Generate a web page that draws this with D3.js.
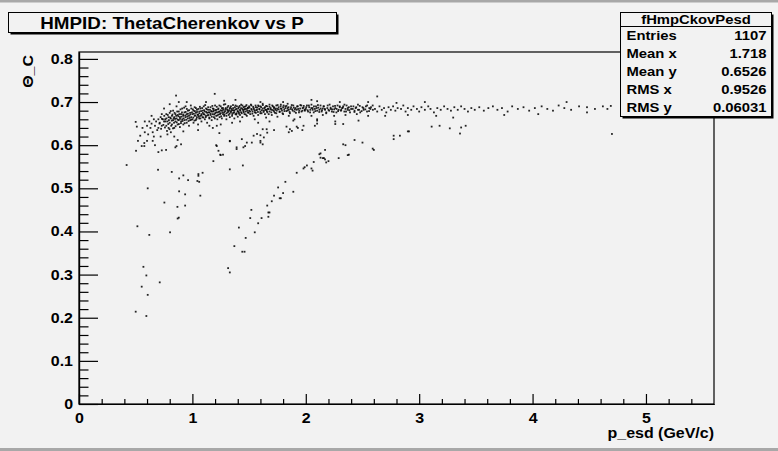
<!DOCTYPE html>
<html><head><meta charset="utf-8">
<script src="https://cdn.jsdelivr.net/npm/d3@7"></script>
<style>
html,body{margin:0;padding:0;background:#f2f2f2;}
svg{display:block;}
text{font-family:"Liberation Sans",Arial,Helvetica,sans-serif;font-weight:bold;fill:#000;}
</style></head>
<body>
<svg id="c" width="778" height="451"></svg>
<script>
// ---------------- DATA ----------------
const chartTitle = "HMPID: ThetaCherenkov vs P";
const xTitle = "p_esd (GeV/c)";
const yTitle = "\u0398_C";
const statsName = "fHmpCkovPesd";
const statsLabels = ["Entries", "Mean x", "Mean y", "RMS x", "RMS y"];
const statsValues = ["1107", "1.718", "0.6526", "0.9526", "0.06031"];
const xDomain = [0, 5.6];
const yDomain = [0, 0.816];
const xMajorTicks = [0, 1, 2, 3, 4, 5];
const yMajorTicks = [0, 0.1, 0.2, 0.3, 0.4, 0.5, 0.6, 0.7, 0.8];

// main Cherenkov-angle band (x = p, y = theta)
const bandPoints = [
[0.56,0.64],[0.58,0.63],[0.60,0.645],[0.61,0.625],[0.62,0.655],[0.63,0.64],[0.64,0.65],[0.65,0.63],[0.66,0.66],[0.67,0.645],
[0.68,0.655],[0.69,0.635],[0.70,0.66],[0.71,0.65],[0.72,0.665],[0.73,0.645],[0.74,0.66],[0.75,0.655],[0.72,0.62],[0.66,0.62],
[0.60,0.61],[0.58,0.655],[0.64,0.668],[0.70,0.64],[0.73,0.672],[0.50,0.654],[0.51,0.643],[0.54,0.622],[0.52,0.61],
[0.76,0.66],[0.77,0.645],[0.77,0.672],[0.78,0.655],[0.79,0.665],[0.79,0.64],[0.80,0.675],[0.80,0.652],[0.81,0.662],[0.81,0.63],
[0.82,0.668],[0.82,0.648],[0.83,0.68],[0.83,0.658],[0.84,0.665],[0.84,0.64],[0.85,0.672],[0.85,0.655],[0.86,0.69],[0.86,0.662],
[0.87,0.648],[0.87,0.67],[0.88,0.658],[0.88,0.678],[0.89,0.665],[0.89,0.642],[0.90,0.672],[0.90,0.655],[0.91,0.685],[0.91,0.66],
[0.92,0.668],[0.92,0.648],[0.93,0.676],[0.93,0.658],[0.94,0.665],[0.94,0.69],[0.95,0.672],[0.95,0.652],[0.96,0.68],[0.96,0.662],
[0.97,0.668],[0.97,0.645],[0.98,0.675],[0.98,0.658],[0.99,0.665],[0.99,0.685],[0.78,0.625],[0.84,0.62],[0.92,0.632],[0.88,0.70],
[0.80,0.695],[0.75,0.685],[0.95,0.70],[0.856,0.715],
[1.00,0.672],[1.00,0.66],[1.01,0.68],[1.01,0.652],[1.02,0.668],[1.02,0.688],[1.03,0.675],[1.03,0.658],[1.04,0.665],[1.04,0.682],
[1.05,0.67],[1.05,0.648],[1.06,0.678],[1.06,0.662],[1.07,0.685],[1.07,0.668],[1.08,0.672],[1.08,0.655],[1.09,0.68],[1.09,0.665],
[1.10,0.69],[1.10,0.672],[1.11,0.66],[1.11,0.678],[1.12,0.668],[1.12,0.685],[1.13,0.675],[1.13,0.652],[1.14,0.67],[1.14,0.682],
[1.15,0.662],[1.15,0.676],[1.16,0.688],[1.16,0.67],[1.17,0.678],[1.17,0.658],[1.18,0.672],[1.18,0.685],[1.19,0.665],[1.19,0.68],
[1.20,0.674],[1.20,0.692],[1.21,0.668],[1.21,0.682],[1.22,0.676],[1.22,0.66],[1.23,0.685],[1.23,0.671],[1.24,0.678],[1.24,0.665],
[1.25,0.69],[1.25,0.674],[1.26,0.68],[1.26,0.662],[1.27,0.672],[1.27,0.686],[1.28,0.676],[1.28,0.668],[1.29,0.683],[1.29,0.695],
[1.30,0.674],[1.30,0.66],[1.31,0.68],[1.31,0.688],[1.32,0.67],[1.32,0.678],[1.33,0.685],[1.33,0.665],[1.34,0.676],[1.34,0.69],
[1.35,0.681],[1.35,0.668],[1.36,0.675],[1.36,0.686],[1.37,0.68],[1.37,0.662],[1.38,0.672],[1.38,0.692],[1.39,0.684],[1.39,0.674],
[1.40,0.678],[1.40,0.666],[1.41,0.688],[1.41,0.676],[1.42,0.682],[1.42,0.67],[1.43,0.676],[1.43,0.694],[1.44,0.684],[1.44,0.665],
[1.45,0.679],[1.45,0.688],[1.46,0.672],[1.46,0.683],[1.47,0.678],[1.47,0.69],[1.48,0.684],[1.48,0.668],[1.49,0.676],[1.49,0.686],
[1.05,0.635],[1.15,0.645],[1.25,0.648],[1.35,0.652],[1.12,0.70],[1.28,0.703],[1.38,0.705],[1.18,0.64],[1.42,0.655],[1.197,0.719],
[1.50,0.68],[1.50,0.69],[1.51,0.672],[1.52,0.684],[1.52,0.692],[1.53,0.678],[1.54,0.686],[1.54,0.668],[1.55,0.68],[1.56,0.688],
[1.56,0.675],[1.57,0.682],[1.58,0.692],[1.58,0.67],[1.59,0.684],[1.60,0.678],[1.60,0.69],[1.61,0.674],[1.62,0.685],[1.62,0.696],
[1.63,0.68],[1.64,0.688],[1.64,0.672],[1.65,0.682],[1.66,0.69],[1.66,0.676],[1.67,0.684],[1.68,0.678],[1.68,0.694],[1.69,0.686],
[1.70,0.67],[1.70,0.682],[1.71,0.69],[1.72,0.678],[1.72,0.686],[1.73,0.682],[1.74,0.692],[1.74,0.674],[1.75,0.684],[1.76,0.688],
[1.77,0.678],[1.78,0.685],[1.78,0.694],[1.79,0.68],[1.80,0.688],[1.80,0.672],[1.81,0.683],[1.82,0.69],[1.83,0.679],[1.84,0.686],
[1.84,0.696],[1.85,0.682],[1.86,0.674],[1.87,0.688],[1.88,0.683],[1.89,0.692],[1.90,0.678],[1.91,0.686],[1.92,0.682],[1.93,0.69],
[1.94,0.676],[1.95,0.685],[1.96,0.692],[1.97,0.68],[1.98,0.687],[1.99,0.682],[1.55,0.66],[1.65,0.664],[1.75,0.666],[1.85,0.668],
[1.95,0.665],[1.60,0.70],[1.80,0.70],[1.58,0.652],[1.68,0.655],[1.90,0.66],
[2.00,0.684],[2.01,0.692],[2.02,0.678],[2.03,0.688],[2.04,0.682],[2.05,0.694],[2.06,0.686],[2.07,0.676],[2.08,0.684],[2.09,0.69],
[2.10,0.68],[2.11,0.687],[2.12,0.682],[2.13,0.692],[2.14,0.678],[2.15,0.685],[2.16,0.69],[2.17,0.682],[2.18,0.674],[2.19,0.686],
[2.20,0.682],[2.21,0.694],[2.22,0.684],[2.23,0.678],[2.24,0.69],[2.25,0.683],[2.26,0.686],[2.27,0.676],[2.28,0.692],[2.29,0.682],
[2.30,0.688],[2.31,0.68],[2.32,0.686],[2.33,0.69],[2.34,0.678],[2.35,0.684],[2.36,0.692],[2.37,0.682],[2.38,0.688],[2.39,0.676],
[2.40,0.684],[2.42,0.69],[2.43,0.68],[2.44,0.686],[2.46,0.694],[2.47,0.682],[2.48,0.676],[2.50,0.688],[2.51,0.682],[2.53,0.69],
[2.54,0.678],[2.56,0.686],[2.57,0.684],[2.59,0.692],[2.05,0.668],[2.15,0.67],[2.25,0.668],[2.35,0.67],[2.45,0.672],[2.10,0.702],
[2.30,0.70],[2.55,0.70],[2.63,0.713],[2.05,0.705],
[2.61,0.684],[2.63,0.678],[2.65,0.69],[2.67,0.682],[2.69,0.686],[2.71,0.676],[2.73,0.688],[2.75,0.682],[2.77,0.69],[2.79,0.68],
[2.81,0.686],[2.84,0.684],[2.86,0.692],[2.88,0.678],[2.90,0.686],[2.93,0.682],[2.95,0.69],[2.98,0.684],[3.00,0.678],[3.02,0.688],
[3.05,0.682],[3.08,0.69],[3.10,0.684],[3.13,0.676],[3.16,0.686],[3.19,0.682],[3.22,0.69],[3.25,0.684],[3.28,0.68],[3.31,0.688],
[3.34,0.682],[3.37,0.69],[3.40,0.684],[3.43,0.678],[3.46,0.686],[3.49,0.682],[2.70,0.668],[2.90,0.67],[3.15,0.668],[2.80,0.698],
[3.05,0.70],
[3.53,0.688],[3.57,0.68],[3.61,0.686],[3.65,0.69],[3.69,0.682],[3.73,0.686],[3.78,0.678],[3.82,0.69],[3.87,0.684],[3.92,0.688],
[3.97,0.68],[4.02,0.686],[4.08,0.69],[4.13,0.684],[4.18,0.68],[4.23,0.692],[4.28,0.686],[4.34,0.682],[4.41,0.69],[4.48,0.688],
[4.48,0.676],[4.55,0.684],[4.62,0.69],[4.66,0.684],[4.69,0.691],[4.05,0.672],[3.75,0.67],[4.30,0.70]
];

// denser core of the band, read from the blackest region
const bandCorePoints = [
[0.712,0.652],[0.724,0.638],[0.731,0.661],[0.744,0.647],[0.752,0.668],[0.758,0.641],[0.763,0.655],[0.771,0.662],[0.776,0.633],[0.783,0.67],
[0.787,0.649],[0.793,0.658],[0.798,0.637],[0.804,0.664],[0.809,0.679],[0.813,0.645],[0.818,0.657],[0.824,0.671],[0.829,0.639],[0.834,0.662],
[0.838,0.652],[0.843,0.675],[0.847,0.661],[0.852,0.644],[0.857,0.668],[0.862,0.653],[0.866,0.678],[0.871,0.659],[0.876,0.667],[0.881,0.649],
[0.885,0.672],[0.891,0.661],[0.895,0.683],[0.899,0.651],[0.904,0.666],[0.908,0.676],[0.913,0.656],[0.918,0.671],[0.923,0.662],[0.927,0.687],
[0.932,0.651],[0.937,0.669],[0.941,0.677],[0.946,0.659],[0.951,0.684],[0.955,0.667],[0.961,0.673],[0.966,0.656],[0.971,0.681],[0.976,0.663],
[0.981,0.671],[0.986,0.692],[0.991,0.659],[0.996,0.676],
[1.004,0.683],[1.008,0.664],[1.013,0.673],[1.018,0.657],[1.022,0.679],[1.027,0.669],[1.031,0.686],[1.036,0.661],[1.041,0.677],[1.046,0.671],
[1.052,0.684],[1.057,0.666],[1.061,0.674],[1.066,0.689],[1.071,0.662],[1.076,0.679],[1.081,0.669],[1.086,0.686],[1.092,0.675],[1.097,0.664],
[1.103,0.681],[1.107,0.671],[1.113,0.693],[1.118,0.665],[1.123,0.677],[1.128,0.683],[1.134,0.669],[1.139,0.688],[1.144,0.676],[1.149,0.664],
[1.155,0.682],[1.161,0.673],[1.166,0.679],[1.171,0.666],[1.176,0.691],[1.182,0.678],[1.187,0.684],[1.193,0.671],[1.198,0.662],[1.204,0.681],
[1.209,0.676],[1.215,0.689],[1.221,0.669],[1.226,0.683],[1.232,0.677],[1.238,0.692],[1.243,0.672],[1.249,0.681],[1.254,0.667],[1.26,0.686],
[1.266,0.676],[1.271,0.682],[1.277,0.694],[1.283,0.671],[1.288,0.679],[1.294,0.686],[1.30,0.668],[1.306,0.683],[1.311,0.676],[1.317,0.691],
[1.323,0.681],[1.328,0.673],[1.334,0.687],[1.34,0.679],[1.346,0.684],[1.352,0.672],[1.358,0.693],[1.363,0.681],[1.369,0.676],[1.375,0.688],
[1.381,0.683],[1.387,0.671],[1.393,0.69],[1.399,0.679],[1.405,0.685],[1.411,0.673],[1.417,0.691],[1.423,0.68],[1.429,0.686],[1.435,0.674],
[1.441,0.692],[1.447,0.682],[1.453,0.676],[1.459,0.689],[1.465,0.684],[1.471,0.671],[1.477,0.693],[1.483,0.68],[1.489,0.687],[1.495,0.675],
[1.503,0.687],[1.509,0.678],[1.516,0.694],[1.523,0.682],[1.529,0.673],[1.536,0.689],[1.543,0.683],[1.55,0.676],[1.557,0.692],[1.563,0.681],
[1.571,0.687],[1.578,0.677],[1.585,0.69],[1.592,0.683],[1.599,0.674],[1.606,0.688],[1.613,0.681],[1.621,0.693],[1.628,0.677],[1.635,0.686],
[1.643,0.682],[1.65,0.691],[1.657,0.679],[1.665,0.684],[1.673,0.672],[1.68,0.689],[1.688,0.683],[1.696,0.676],[1.704,0.692],[1.712,0.681],
[1.72,0.688],[1.728,0.675],[1.736,0.685],[1.744,0.68],[1.752,0.693],[1.761,0.683],[1.769,0.677],[1.778,0.69],[1.786,0.684],[1.795,0.674],
[1.804,0.692],[1.812,0.679],[1.821,0.686],[1.83,0.691],[1.839,0.681],[1.848,0.688],[1.857,0.677],[1.866,0.684],[1.876,0.693],[1.885,0.68],
[1.894,0.687],[1.904,0.683],[1.913,0.675],[1.923,0.69],[1.933,0.684],[1.942,0.68],[1.952,0.693],[1.962,0.678],[1.972,0.686],[1.982,0.691],
[1.992,0.68],
[2.004,0.688],[2.016,0.681],[2.027,0.692],[2.038,0.676],[2.049,0.686],[2.061,0.682],[2.072,0.69],[2.084,0.679],[2.095,0.686],[2.107,0.693],
[2.119,0.677],[2.131,0.685],[2.143,0.681],[2.156,0.69],[2.168,0.684],[2.181,0.676],[2.193,0.692],[2.206,0.68],[2.219,0.687],[2.232,0.683],
[2.245,0.677],[2.258,0.691],[2.272,0.684],[2.285,0.679],[2.299,0.69],[2.313,0.682],[2.327,0.687],[2.341,0.694],[2.355,0.678],[2.37,0.686],
[2.384,0.681],[2.399,0.69],[2.414,0.684],[2.429,0.677],[2.445,0.688],[2.46,0.682],[2.476,0.691],[2.492,0.679],[2.508,0.686],[2.525,0.683],
[2.541,0.692],[2.558,0.679],[2.575,0.688],[2.592,0.682]
];

// points just below the band
const belowBandPoints = [
[1.215,0.645],[1.238,0.628],[1.72,0.635],[1.83,0.643],[1.86,0.637],[1.89,0.657],[1.92,0.643],[1.877,0.633],[1.93,0.64],[1.97,0.635],
[2.08,0.645],[2.10,0.657],[2.26,0.655],[2.26,0.649],[2.33,0.649],[2.465,0.657],[2.55,0.668],[2.775,0.622],[2.775,0.614],[2.83,0.622],
[2.91,0.632],[3.11,0.643],[3.18,0.645],[3.27,0.639],[3.30,0.664],[3.37,0.641],[3.36,0.627],[3.41,0.645],[4.70,0.626],[1.85,0.63],
[1.98,0.645],[2.10,0.65],[2.10,0.66]
];

// second ring branch
const kaonPoints = [
[1.215,0.598],[1.23,0.587],[1.245,0.578],[1.27,0.578],[1.33,0.61],[1.39,0.595],[1.436,0.614],[1.465,0.598],[1.524,0.606],[1.54,0.622],
[1.57,0.626],[1.60,0.61],[1.62,0.602],[1.63,0.618],[1.655,0.637],[1.66,0.629],[1.21,0.60],[1.25,0.577],[1.185,0.563],[1.33,0.544],
[1.445,0.553],[1.39,0.591],[1.45,0.595],[1.48,0.606],[1.60,0.623],[1.60,0.606],[1.62,0.637],[1.33,0.609],
[0.65,0.61],[0.67,0.60],[0.70,0.584],[0.73,0.588],[0.768,0.589],[0.85,0.595],[0.86,0.598],[0.87,0.612],[0.90,0.602],[0.553,0.598],
[0.576,0.598],[0.576,0.605],[0.503,0.587],[0.42,0.554],[0.606,0.50],[0.697,0.543],[0.818,0.538],[0.883,0.523],[0.92,0.53],
[0.962,0.519],[1.053,0.533],[1.053,0.529],[1.09,0.536],[1.044,0.517],[1.06,0.515],[0.883,0.493],[0.936,0.486],[1.07,0.483],
[0.753,0.467],[0.868,0.457],[0.936,0.46],[0.87,0.43],[0.88,0.432],[0.515,0.412],[0.62,0.392],[0.803,0.398],[0.568,0.318],
[0.594,0.298],[0.712,0.282],[0.553,0.272],[0.606,0.253],[0.50,0.214],[0.594,0.204]
];

// third branch
const protonPoints = [
[1.89,0.492],[1.80,0.489],[1.72,0.483],[1.77,0.477],[1.78,0.477],[1.70,0.47],[1.66,0.46],[1.52,0.45],[1.67,0.444],[1.68,0.444],
[1.67,0.434],[1.51,0.431],[1.61,0.431],[1.58,0.419],[1.41,0.409],[1.55,0.398],[1.47,0.385],[1.37,0.366],[1.44,0.353],[1.46,0.353],
[1.315,0.315],[1.33,0.305],[1.82,0.515],[1.756,0.502],[1.92,0.536],[1.98,0.546],[2.01,0.553],[2.05,0.546],[2.07,0.561],[2.13,0.581],
[2.13,0.571],[2.17,0.567],[2.20,0.563],[1.99,0.549],[2.06,0.541],[2.12,0.579],[2.17,0.589],[2.18,0.56],[2.29,0.57],[2.33,0.602],
[2.35,0.60],[2.37,0.577],[2.38,0.578],[2.43,0.612],[2.50,0.606],[2.59,0.592],[2.60,0.589],[2.15,0.57],[2.16,0.57],[2.90,0.632]
];

// ---------------- DRAW ----------------
const W = 778, H = 451;
const svg = d3.select("#c");
const frame = {left: 79, right: 714, top: 52, bottom: 404};

svg.append("rect").attr("width", W).attr("height", H).attr("fill", "#f2f2f2");
svg.append("rect").attr("x", 0).attr("y", 0).attr("width", W).attr("height", 2.5).attr("fill", "#a8a8a8");
svg.append("rect").attr("x", 0).attr("y", 448).attr("width", W).attr("height", 3).attr("fill", "#a8a8a8");

const x = d3.scaleLinear().domain(xDomain).range([frame.left, frame.right]);
const y = d3.scaleLinear().domain(yDomain).range([frame.bottom, frame.top]);

svg.append("rect").attr("x", frame.left).attr("y", frame.top)
  .attr("width", frame.right - frame.left).attr("height", frame.bottom - frame.top)
  .attr("fill", "none").attr("stroke", "#000").attr("stroke-width", 1.2);

const allGroups = [bandPoints, bandCorePoints, belowBandPoints, kaonPoints, protonPoints];
const pts = svg.append("g");
allGroups.forEach(g => {
  pts.selectAll(null).data(g).enter().append("rect")
    .attr("x", d => x(d[0]) - 0.9).attr("y", d => y(d[1]) - 0.9)
    .attr("width", 1.8).attr("height", 1.8).attr("fill", "#000").attr("fill-opacity", 0.85);
});

const yMinor = d3.range(0, 41).map(i => i * 0.02).filter(v => Math.abs(v * 10 - Math.round(v * 10)) > 1e-6);
const xMinor = d3.range(0, 29).map(i => i * 0.2).filter(v => Math.abs(v - Math.round(v)) > 1e-6 && v <= 5.5);

const yAxisMinor = d3.axisLeft(y).tickValues(yMinor).tickSize(-9.5).tickSizeOuter(0).tickFormat("");
const yAxisMajor = d3.axisLeft(y).tickValues(yMajorTicks).tickSize(-19).tickSizeOuter(0).tickPadding(6)
  .tickFormat(d => d === 0 ? "0" : d3.format(".1f")(d));
const xAxisMinor = d3.axisBottom(x).tickValues(xMinor).tickSize(-5).tickSizeOuter(0).tickFormat("");
const xAxisMajor = d3.axisBottom(x).tickValues(xMajorTicks).tickSize(-10).tickSizeOuter(0).tickPadding(9)
  .tickFormat(d3.format("d"));

function styleAxis(g) {
  g.selectAll("path.domain").attr("stroke", "#000").attr("stroke-width", 1.2);
  g.selectAll(".tick line").attr("stroke", "#000").attr("stroke-width", 1.2);
  g.selectAll("text").attr("font-size", 14).attr("font-family", "Liberation Sans, Arial, sans-serif")
    .attr("font-weight", "bold").attr("fill", "#000");
}
svg.append("g").attr("transform", `translate(${frame.left},0)`).call(yAxisMinor).call(styleAxis);
svg.append("g").attr("transform", `translate(${frame.left},0)`).call(yAxisMajor).call(styleAxis);
svg.append("g").attr("transform", `translate(0,${frame.bottom})`).call(xAxisMinor).call(styleAxis);
svg.append("g").attr("transform", `translate(0,${frame.bottom})`).call(xAxisMajor).call(styleAxis);

svg.append("text").attr("x", frame.right).attr("y", 438).attr("text-anchor", "end")
  .attr("font-size", 14).text(xTitle);
svg.append("text").attr("transform", "translate(33,55) rotate(-90)").attr("text-anchor", "end")
  .attr("font-size", 14).text(yTitle);

svg.append("rect").attr("x", 10.5).attr("y", 14.5).attr("width", 328).attr("height", 20).attr("fill", "#000");
svg.append("rect").attr("x", 8.5).attr("y", 12.5).attr("width", 328).attr("height", 20)
  .attr("fill", "#f2f2f2").attr("stroke", "#000").attr("stroke-width", 1);
svg.append("text").attr("x", 172).attr("y", 28.5).attr("text-anchor", "middle")
  .attr("font-size", 16.5).text(chartTitle);

const sb = {x: 620.5, y: 12.5, w: 151, h: 104};
svg.append("rect").attr("x", sb.x + 2).attr("y", sb.y + 2).attr("width", sb.w).attr("height", sb.h).attr("fill", "#000");
svg.append("rect").attr("x", sb.x).attr("y", sb.y).attr("width", sb.w).attr("height", sb.h)
  .attr("fill", "#f2f2f2").attr("stroke", "#000").attr("stroke-width", 1);
svg.append("line").attr("x1", sb.x).attr("x2", sb.x + sb.w).attr("y1", 26.5).attr("y2", 26.5)
  .attr("stroke", "#000").attr("stroke-width", 1);
svg.append("text").attr("x", sb.x + sb.w / 2).attr("y", 23.5).attr("text-anchor", "middle")
  .attr("font-size", 13).text(statsName);
const rowY = d3.scaleBand().domain(statsLabels).range([27, sb.y + sb.h]);
statsLabels.forEach((lab, i) => {
  const yy = rowY(lab) + rowY.bandwidth() / 2 + 4.5;
  svg.append("text").attr("x", 626.5).attr("y", yy).attr("font-size", 13).text(lab);
  svg.append("text").attr("x", 766.5).attr("y", yy).attr("text-anchor", "end")
    .attr("font-size", 13).text(statsValues[i]);
});

// horizontal stretch of all text to mimic the reference rendering
svg.selectAll("text").each(function () {
  const len = this.getComputedTextLength();
  if (len > 0) d3.select(this).attr("textLength", len * 1.14).attr("lengthAdjust", "spacingAndGlyphs");
});
</script>
</body></html>
